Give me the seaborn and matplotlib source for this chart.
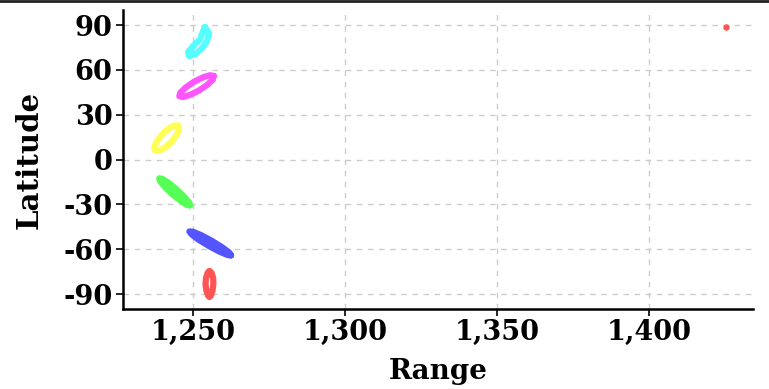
import pandas as pd
import numpy as np
import matplotlib
matplotlib.use('Agg')
import matplotlib.pyplot as plt
from matplotlib.lines import Line2D
import seaborn as sns

# outlines of each point cloud (range, latitude)
cyan_range = [1253.9, 1255.3, 1254.6, 1253.0, 1250.7, 1248.7, 1248.4, 1250.0, 1252.3, 1253.3]
cyan_lat = [88.7, 84.7, 79.3, 74.6, 70.6, 69.3, 72.0, 76.0, 80.6, 86.0]

magenta_range = [1256.8, 1256.5, 1254.7, 1252.0, 1249.0, 1246.7, 1245.5, 1245.8, 1247.6, 1250.3, 1253.3, 1255.6]
magenta_lat = [56.0, 53.6, 50.1, 46.3, 43.3, 41.9, 42.4, 44.7, 48.3, 52.1, 55.1, 56.5]

yellow_range = [1245.2, 1245.4, 1244.5, 1242.8, 1240.7, 1238.8, 1237.5, 1237.3, 1238.2, 1239.9, 1242.0, 1243.9]
yellow_lat = [22.7, 20.2, 16.2, 11.6, 7.9, 5.9, 6.1, 8.6, 12.6, 17.1, 20.9, 22.9]

green_range = [1249.0, 1247.9, 1245.9, 1243.2, 1240.8, 1239.2, 1238.9, 1239.9, 1242.0, 1244.6, 1247.0, 1248.7]
green_lat = [-30.6, -30.2, -27.5, -23.2, -18.4, -14.5, -12.5, -12.9, -15.6, -19.9, -24.7, -28.6]

blue_range = [1262.5, 1261.4, 1258.7, 1255.2, 1251.8, 1249.5, 1248.8, 1250.0, 1252.7, 1256.2, 1259.5, 1261.9]
blue_lat = [-64.1, -63.9, -61.6, -57.8, -53.6, -50.0, -48.1, -48.3, -50.6, -54.4, -58.6, -62.2]

red_range = [1255.4, 1256.1, 1256.6, 1256.7, 1256.4, 1255.9, 1255.4, 1254.9, 1254.4, 1254.1, 1254.3, 1254.8]
red_lat = [-74.6, -75.8, -79.0, -83.3, -87.7, -90.9, -92.0, -90.9, -87.7, -83.3, -79.0, -75.8]

dot_range = [1425.3]
dot_lat = [88.9]

groups = {
    'cyan': (cyan_range, cyan_lat),
    'magenta': (magenta_range, magenta_lat),
    'yellow': (yellow_range, yellow_lat),
    'green': (green_range, green_lat),
    'blue': (blue_range, blue_lat),
    'red': (red_range, red_lat),
}
palette = {'cyan': '#55ffff', 'magenta': '#ff55ff', 'yellow': '#ffff55',
           'green': '#55ff55', 'blue': '#5555ff', 'red': '#ff5555'}

rows = []
for name, (xs, ys) in groups.items():
    # close each loop by going back to its first point
    for i, (x, y) in enumerate(list(zip(xs, ys)) + [(xs[0], ys[0])]):
        rows.append({'Range': x, 'Latitude': y, 'group': name, 'order': i})
data = pd.DataFrame(rows)

plt.rcParams['font.family'] = ['DejaVu Serif']
plt.rcParams['font.weight'] = 'bold'

fig = plt.figure(figsize=(7.69, 3.89), dpi=100)
ax = fig.add_axes([0.16, 0.2057, 0.819, 0.768])

sns.lineplot(data=data, x='Range', y='Latitude', hue='group', palette=palette,
             sort=False, estimator=None, units='group', linewidth=4.5,
             legend=False, ax=ax, solid_joinstyle='round', solid_capstyle='round')
sns.scatterplot(x=dot_range, y=dot_lat, color='#ff5555', s=22, linewidth=0, ax=ax)

ax.set_xlim(1227, 1434)
ax.set_ylim(-100, 100)
ax.set_xticks([1250, 1300, 1350, 1400])
ax.set_xticklabels(['1,250', '1,300', '1,350', '1,400'])
ax.set_yticks([-90, -60, -30, 0, 30, 60, 90])
ax.set_yticklabels(['-90', '-60', '-30', '0', '30', '60', '90'])

ax.grid(True, color='#cccccc', linestyle=(0, (4, 4)), linewidth=1)
ax.set_axisbelow(True)
for side in ['top', 'right']:
    ax.spines[side].set_visible(False)
for side in ['left', 'bottom']:
    ax.spines[side].set_linewidth(1.8)
ax.tick_params(axis='both', length=5, width=1.2, labelsize=19.5, pad=2.5)
for lab in ax.get_xticklabels() + ax.get_yticklabels():
    lab.set_fontweight('heavy')

ax.set_xlabel('Range', fontsize=20, fontweight='heavy', labelpad=8)
ax.set_ylabel('Latitude', fontsize=21, fontweight='heavy', labelpad=14)

fig.add_artist(Line2D([0, 1], [0.997, 0.997], transform=fig.transFigure, color='#222222', linewidth=2))

fig.savefig('out.png', dpi=100)
